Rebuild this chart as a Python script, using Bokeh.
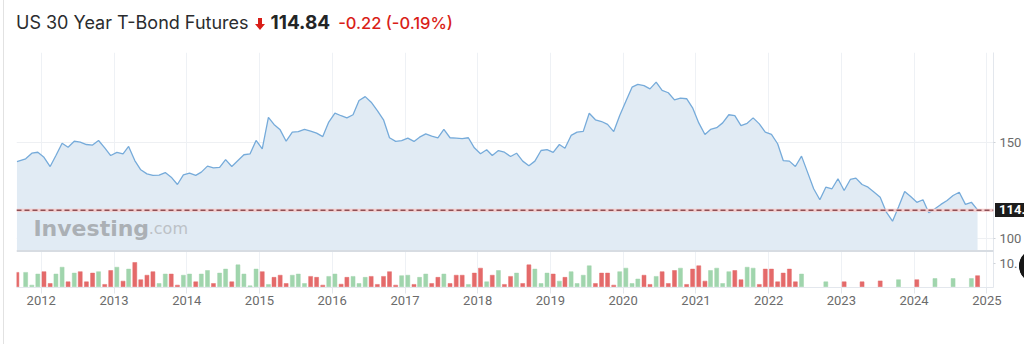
import numpy as np
import pandas as pd
from bokeh.plotting import figure
from bokeh.models import (Range1d, FixedTicker, DatetimeTickFormatter, Span, Label,
                          Div, ColumnDataSource)
from bokeh.layouts import column
from bokeh.embed import file_html
from bokeh.resources import INLINE

# ---------------- data ----------------
first_date = "2011-09-01"          # first (partial) point
monthly_start = "2011-10-01"       # then one point per month (mid-month)

price = [
    140.0, 141.4, 144.3, 144.8, 142.2, 137.4, 143.1, 149.5, 147.4, 150.5,
    150.0, 148.8, 148.5, 150.9, 147.1, 143.1, 144.7, 144.0, 147.8, 140.5,
    135.7, 133.6, 132.8, 133.0, 134.3, 131.9, 128.1, 133.1, 134.0, 132.8,
    134.5, 137.6, 136.7, 137.0, 141.0, 137.4, 140.5, 143.5, 144.0, 150.9,
    146.6, 162.9, 159.2, 156.4, 150.5, 155.2, 155.5, 156.6, 155.7, 154.7,
    152.9, 160.4, 165.0, 163.7, 162.6, 164.2, 171.6, 173.6, 170.7, 166.4,
    161.6, 152.3, 150.4, 150.8, 152.1, 150.4, 152.6, 154.3, 153.1, 152.3,
    156.6, 152.3, 152.1, 151.9, 152.3, 147.1, 144.0, 146.1, 143.1, 145.7,
    144.8, 142.6, 144.3, 140.2, 137.8, 140.2, 145.7, 146.2, 144.7, 148.8,
    146.9, 153.5, 155.2, 155.6, 165.0, 161.6, 160.7, 159.2, 155.5, 163.8,
    171.2, 178.5, 179.9, 179.3, 177.6, 181.1, 176.8, 175.6, 171.9, 172.8,
    172.5, 167.8, 160.0, 154.0, 156.6, 157.5, 160.0, 164.2, 163.8, 158.6,
    159.8, 162.6, 159.5, 155.2, 154.0, 149.2, 140.5, 140.2, 137.4, 142.8,
    134.5, 125.9, 120.2, 126.7, 125.9, 131.1, 125.0, 130.7, 131.4, 128.1,
    126.7, 124.1, 121.5, 113.8, 109.1, 116.4, 124.5, 121.9, 118.9, 120.2,
    113.5, 115.5, 117.8, 119.8, 122.4, 124.1, 117.8, 118.9, 115.0,
]

N = None
volume = [
    6.1, 6.1, 0.7, 5.4, 6.4, 1.4, 5.4, 8.3, 2.1, 5.8,
    6.4, 2.1, 5.8, 6.4, 1.0, 6.9, 8.3, 2.4, 7.5, 10.3,
    3.0, 4.9, 6.4, 1.4, 5.4, 5.4, 0.7, 4.9, 5.4, 2.1,
    5.4, 6.9, 1.4, 5.8, 7.5, 2.1, 9.3, 5.4, 0.4, 7.5,
    6.4, 1.0, 4.0, 4.9, 1.4, 4.9, 5.4, 1.4, 4.4, 4.0,
    0.7, 4.4, 5.4, 1.1, 4.0, 4.4, 1.4, 4.0, 4.4, 1.0,
    4.4, 6.4, 0.7, 4.7, 4.9, 1.0, 4.0, 5.4, 1.4, 4.0,
    5.4, 1.4, 4.9, 4.9, 1.0, 5.8, 7.9, 2.1, 4.9, 6.9,
    1.0, 4.4, 5.8, 1.4, 9.3, 7.5, 1.4, 5.8, 5.4, 2.4,
    4.0, 6.4, 1.4, 4.9, 8.9, 1.4, 5.8, 5.8, 0.7, 6.4,
    7.9, 1.4, 3.3, 4.9, 1.0, 4.4, 6.4, 1.4, 6.9, 7.9,
    1.0, 7.5, 8.9, 2.4, 6.9, 7.9, 1.4, 6.4, 6.9, 3.0,
    8.3, 7.9, 1.0, 7.5, 7.5, 2.1, 5.8, 7.5, 2.1, 5.4,
    N, N, N, 2.1, N, N, 2.1, N, N, 2.1,
    N, N, 2.5, N, N, 3.0, N, N, 3.0, N,
    N, 3.5, N, N, 3.5, N, N, 3.5, 4.7,
]

last_price = 114.84
title_name = "US 30 Year T-Bond Futures"
change_text = "-0.22 (-0.19%)"
year_ticks = list(range(2012, 2026))

# ---------------- derived ----------------
dates = [pd.Timestamp(first_date)] + list(
    pd.date_range(monthly_start, periods=len(price) - 1, freq="MS") + pd.Timedelta(days=14))
up = [False] + [price[i] > price[i - 1] for i in range(1, len(price))]

src_price = ColumnDataSource(dict(date=dates, price=price))
vd, vv, vc = [], [], []
for d, v, u in zip(dates, volume, up):
    if v is not None:
        vd.append(d); vv.append(v); vc.append("#a0d5ad" if u else "#e46a6a")
src_vol = ColumnDataSource(dict(date=vd, vol=vv, color=vc))

# ranges (price axis, and volume axis sharing the same frame)
p_lo, p_hi = 74.79, 196.43
v_lo, v_hi = -0.3, 99.3
panel_base = 93.69
x_start, x_end = pd.Timestamp("2011-08-30"), pd.Timestamp("2025-02-03")

p = figure(width=1024, height=304, x_axis_type="datetime", y_axis_location="right",
           x_range=Range1d(x_start, x_end), y_range=Range1d(p_lo, p_hi),
           output_backend="svg", toolbar_location=None, margin=(0, 0, 0, 0),
           min_border_left=16, min_border_right=29, min_border_top=12, min_border_bottom=57)
p.extra_y_ranges = {"vol": Range1d(v_lo, v_hi)}
p.border_fill_color = None
p.background_fill_color = "white"
p.outline_line_color = None

ms = lambda t: pd.Timestamp(t).value / 1e6
xt = [ms(f"{y}-01-01") for y in year_ticks]

# grids
p.xgrid.ticker = FixedTicker(ticks=xt)
p.xgrid.grid_line_color = "#eef1f5"
p.ygrid.ticker = FixedTicker(ticks=[100, 150])
p.ygrid.grid_line_color = "#eef0f3"

# area + line
p.varea(x="date", y1=panel_base, y2="price", source=src_price, fill_color="#e1ebf4")
p.line(x="date", y="price", source=src_price, line_color="#76abda", line_width=1.3)

# panel separator
p.add_layout(Span(location=panel_base, dimension="width", line_color="#d7dce2", line_width=2))

# volume bars
bar_w = 20 * 86400000
p.vbar(x="date", top="vol", bottom=0, width=bar_w, source=src_vol, y_range_name="vol",
       fill_color="color", line_color="color", line_width=0.5)

# last price line
p.add_layout(Span(location=last_price, dimension="width", line_color="#f5cccc", line_width=3))
p.add_layout(Span(location=last_price, dimension="width", line_color="#8f4f55",
                  line_width=1.5, line_dash="5 3"))

# watermark
p.add_layout(Label(x=ms("2011-11-23"), y=105.2, text="Investing", text_font="DejaVu Sans",
                   text_font_style="bold", text_font_size="22px", text_color="#abb0b5",
                   text_baseline="alphabetic"))
p.add_layout(Label(x=ms("2013-06-24"), y=105.2, text=".com", text_font="DejaVu Sans",
                   text_font_size="16px", text_color="#bcc1c6", text_baseline="alphabetic"))

# axes
vol_tick = round(p_lo + (10 - v_lo) * (p_hi - p_lo) / (v_hi - v_lo), 2)
ya = p.yaxis[0]
ya.ticker = FixedTicker(ticks=[vol_tick, 100, 150])
ya.major_label_overrides = {vol_tick: "10."}
ya.major_label_text_font = "Roboto"
ya.major_label_text_font_size = "13px"
ya.major_label_text_color = "#6b6b6b"
ya.major_tick_out = 2
ya.major_tick_in = 0
ya.major_tick_line_color = "#cfd3d8"
ya.minor_tick_line_color = None
ya.major_label_standoff = 4
ya.axis_line_color = "#e3e7ed"

xa = p.xaxis[0]
xa.ticker = FixedTicker(ticks=xt)
xa.formatter = DatetimeTickFormatter(years="%Y", months="%Y", days="%Y")
xa.major_label_text_font = "Roboto"
xa.major_label_text_font_size = "13px"
xa.major_label_text_color = "#6b6b6b"
xa.major_tick_out = 6
xa.major_tick_in = 0
xa.major_tick_line_color = "#e3e6eb"
xa.minor_tick_line_color = None
xa.major_label_standoff = 2
xa.axis_line_color = "#e3e7ed"

arrow_svg = ('<svg width="10" height="12" viewBox="0 0 10 12" style="vertical-align:-1px">'
             '<path d="M3 0 H7 V6 H10 L5 12 L0 6 H3 Z" fill="#d91e18"/></svg>')
title_html = (
    f'<div style="font-family:Inter,Roboto,sans-serif;font-size:18px;line-height:20px;'
    f'padding:13px 0 0 16px;color:#2a2c2e;white-space:nowrap">'
    f'{title_name}<span style="margin-left:6px">{arrow_svg}</span>'
    f'<span style="margin-left:6px;font-weight:700;font-size:19px;color:#232526">{last_price:.2f}</span>'
    f'<span style="margin-left:8px;font-weight:500;font-size:16.5px;color:#d91e18">{change_text}</span>'
    f'</div>'
    # last-price tag on the right price scale
    f'<div style="position:absolute;left:995px;top:203px;height:14px;padding:0 4px;'
    f'background:#1c1c1c;color:#fff;font-family:Roboto;font-weight:700;font-size:13px;'
    f'line-height:14px;z-index:5;white-space:nowrap">{last_price:.2f}</div>'
    # round dark button at the right edge
    f'<div style="position:absolute;left:1019px;top:249px;width:34px;height:34px;'
    f'border-radius:50%;background:#161616;z-index:5"></div>'
)
title = Div(width=1024, height=40, margin=(0, 0, 0, 0), text=title_html,
            styles={"overflow": "visible"})

layout = column(title, p, styles={
    "background": ("linear-gradient(#e2e2e2,#e2e2e2) 3px 0 / 1px 100% no-repeat,"
                   "linear-gradient(#1c1c1c,#1c1c1c) 995px 203px / 29px 14px no-repeat,"
                   "radial-gradient(circle at 17px 17px, #161616 16.5px, transparent 17px)"
                   " 1019px 249px / 34px 34px no-repeat")})

open("out.html", "w").write(file_html(layout, INLINE))
